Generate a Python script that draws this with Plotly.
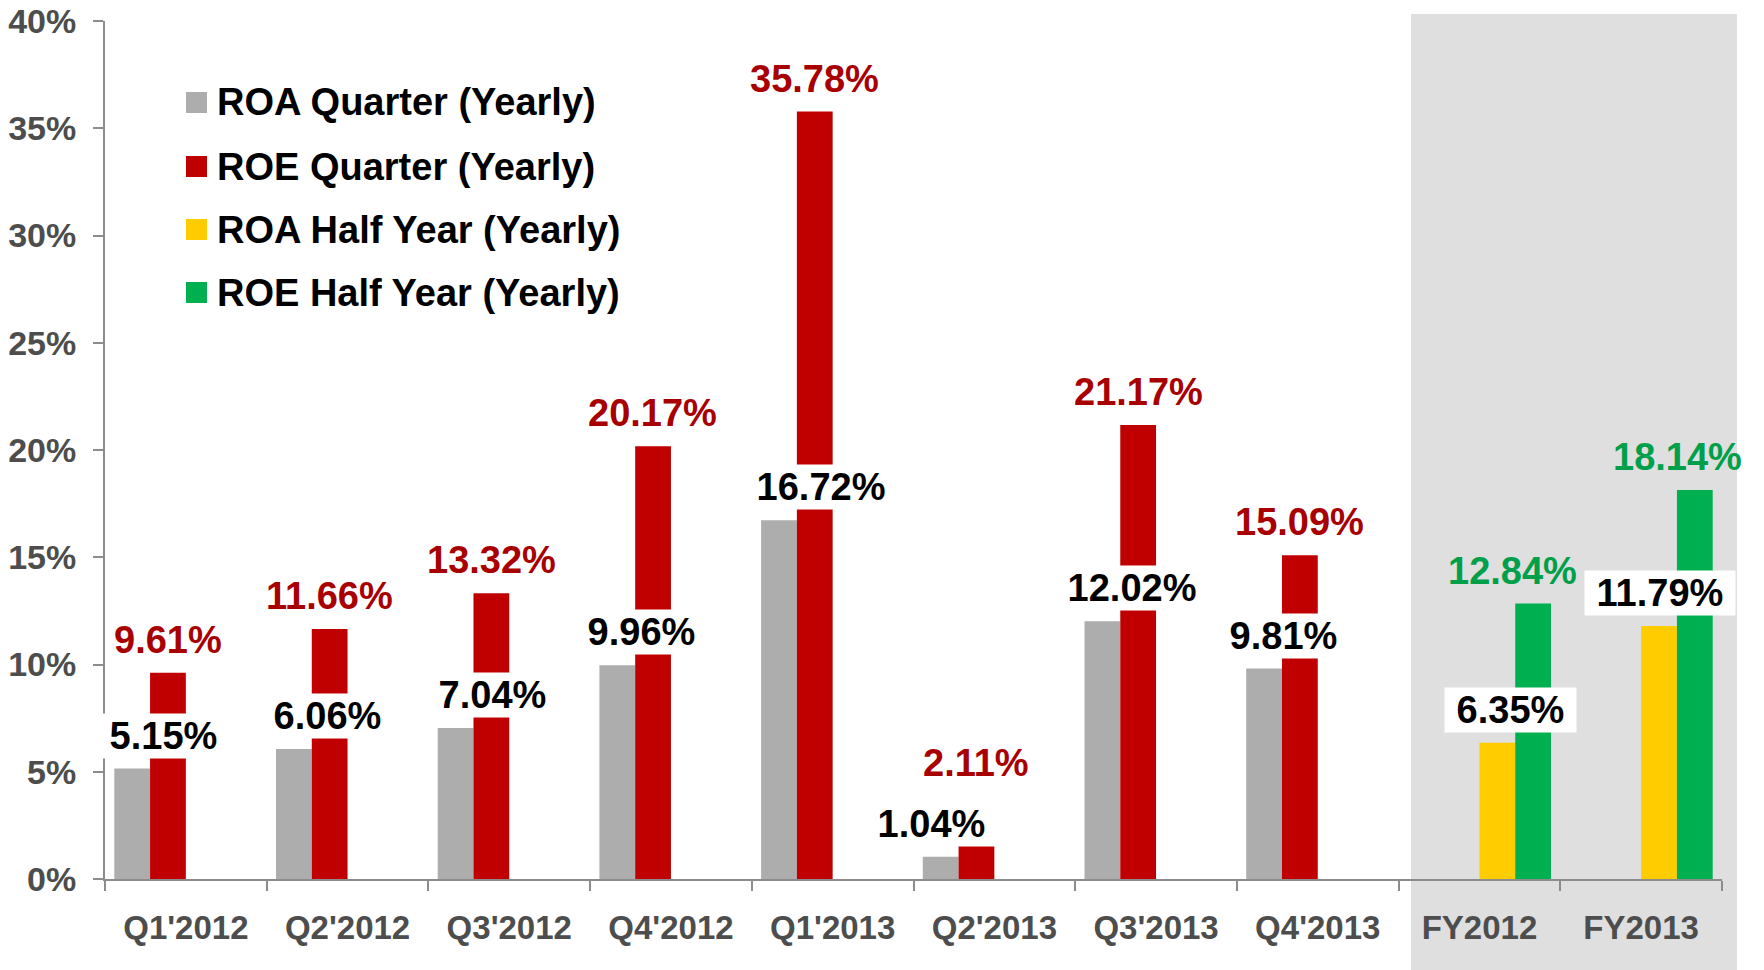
import plotly.graph_objects as go

categories = ["Q1'2012", "Q2'2012", "Q3'2012", "Q4'2012", "Q1'2013",
              "Q2'2013", "Q3'2013", "Q4'2013", "FY2012", "FY2013"]
roa_quarter = [5.15, 6.06, 7.04, 9.96, 16.72, 1.04, 12.02, 9.81, None, None]
roe_quarter = [9.61, 11.66, 13.32, 20.17, 35.78, 2.11, 21.17, 15.09, None, None]
roa_half = [None] * 8 + [6.35, 11.79]
roe_half = [None] * 8 + [12.84, 18.14]
series_names = ["ROA Quarter (Yearly)", "ROE Quarter (Yearly)",
                "ROA Half Year (Yearly)", "ROE Half Year (Yearly)"]

# styles
bar_colors = ["#ADADAD", "#C00000", "#FFCC00", "#00B050"]
label_colors = ["#000000", "#A80000", "#000000", "#00A04B"]
FONT = "Arial, 'Liberation Sans', sans-serif"
TICK_COLOR = "#4D4D4D"
AXIS_COLOR = "#8C8C8C"

# label offsets (px) relative to category centre / bar top
roa_q_dx = [-22, -20, -17, -29, -12, -63, -24, -34, 0, 0]
roe_q_dx = [-18] * 10
roa_h_dx = [0] * 8 + [31, 19]
roe_h_dx = [0] * 8 + [33, 36]
roe_q_dy = [33, 33, 33, 33, 33, 71, 33, 33, 33, 33]
base_dy = [33] * 10

fig = go.Figure()
all_series = [roa_quarter, roe_quarter, roa_half, roe_half]
for name, vals, col in zip(series_names, all_series, bar_colors):
    fig.add_trace(go.Bar(x=categories, y=vals, name=name, marker_color=col,
                         marker_line_width=0, showlegend=False))

annotations = []
NB = "\u00a0"
def add_labels(vals, dxs, dys, color, boxed):
    for c, v, dx, dy in zip(categories, vals, dxs, dys):
        if v is None:
            continue
        txt = f"{v:.2f}%"
        if boxed:
            txt = NB + txt + NB
        annotations.append(dict(
            x=c, y=v, xref="x", yref="y", text=txt, showarrow=False,
            xshift=dx, yshift=dy, yanchor="middle", xanchor="center",
            font=dict(family=FONT, size=38, color=color, weight="bold"),
            bgcolor="white" if boxed else None, borderpad=1))

# ROE first then ROA boxes on top
add_labels(roe_quarter, roe_q_dx, roe_q_dy, label_colors[1], False)
add_labels(roe_half, roe_h_dx, base_dy, label_colors[3], False)
add_labels(roa_quarter, roa_q_dx, base_dy, label_colors[0], True)
add_labels(roa_half, roa_h_dx, base_dy, label_colors[2], True)

# manual legend
W, H = 1764, 970
L, R, T, B = 105, 42, 21, 91
pw, ph = W - L - R, H - T - B
def px2paper(x, y):
    return (x - L) / pw, (H - B - y) / ph

shapes = []
# grey panel behind annual figures
px0, py_top = px2paper(1411, 14)
px1, py_bot = px2paper(1737, H)
shapes.append(dict(type="rect", xref="paper", yref="paper", x0=px0, x1=px1,
                   y0=py_bot, y1=py_top, fillcolor="#DFDFDF", line_width=0,
                   layer="below"))
row_y = [102.5, 166.5, 229.5, 292.5]
for name, col, yy in zip(series_names, bar_colors, row_y):
    x0, y0 = px2paper(186, yy + 10.5)
    x1, y1 = px2paper(207, yy - 10.5)
    shapes.append(dict(type="rect", xref="paper", yref="paper",
                       x0=x0, x1=x1, y0=y0, y1=y1, fillcolor=col, line_width=0))
    tx, ty = px2paper(215, yy)
    annotations.append(dict(x=tx, y=ty, xref="paper", yref="paper", text=name,
                            showarrow=False, xanchor="left", yanchor="middle",
                            font=dict(family=FONT, size=38, color="#000000",
                                      weight="bold")))

fig.update_layout(
    width=W, height=H,
    margin=dict(l=L, r=R, t=T, b=B, autoexpand=False),
    plot_bgcolor="rgba(0,0,0,0)", paper_bgcolor="white",
    barmode="group", bargap=0.115, bargroupgap=0,
    annotations=annotations, shapes=shapes,
    xaxis=dict(type="category", range=[-0.5, len(categories) - 0.5],
               showline=True, linecolor=AXIS_COLOR, linewidth=2,
               ticks="outside", ticklen=10, tickcolor=AXIS_COLOR, tickwidth=2,
               tickson="boundaries", showgrid=False, ticklabelstandoff=18,
               automargin=False,
               tickfont=dict(family=FONT, size=33, color=TICK_COLOR, weight="bold")),
    yaxis=dict(range=[0, 40], dtick=5, ticksuffix="%", showline=True,
               linecolor=AXIS_COLOR, linewidth=2, ticks="outside", ticklen=10,
               tickcolor=AXIS_COLOR, tickwidth=2, showgrid=False, zeroline=False,
               ticklabelstandoff=10, automargin=False,
               tickfont=dict(family=FONT, size=34, color=TICK_COLOR, weight="bold")),
)

fig.write_html("out.html", config={"displayModeBar": False},
               post_script="document.body.style.margin='0';document.body.style.overflow='hidden';")
